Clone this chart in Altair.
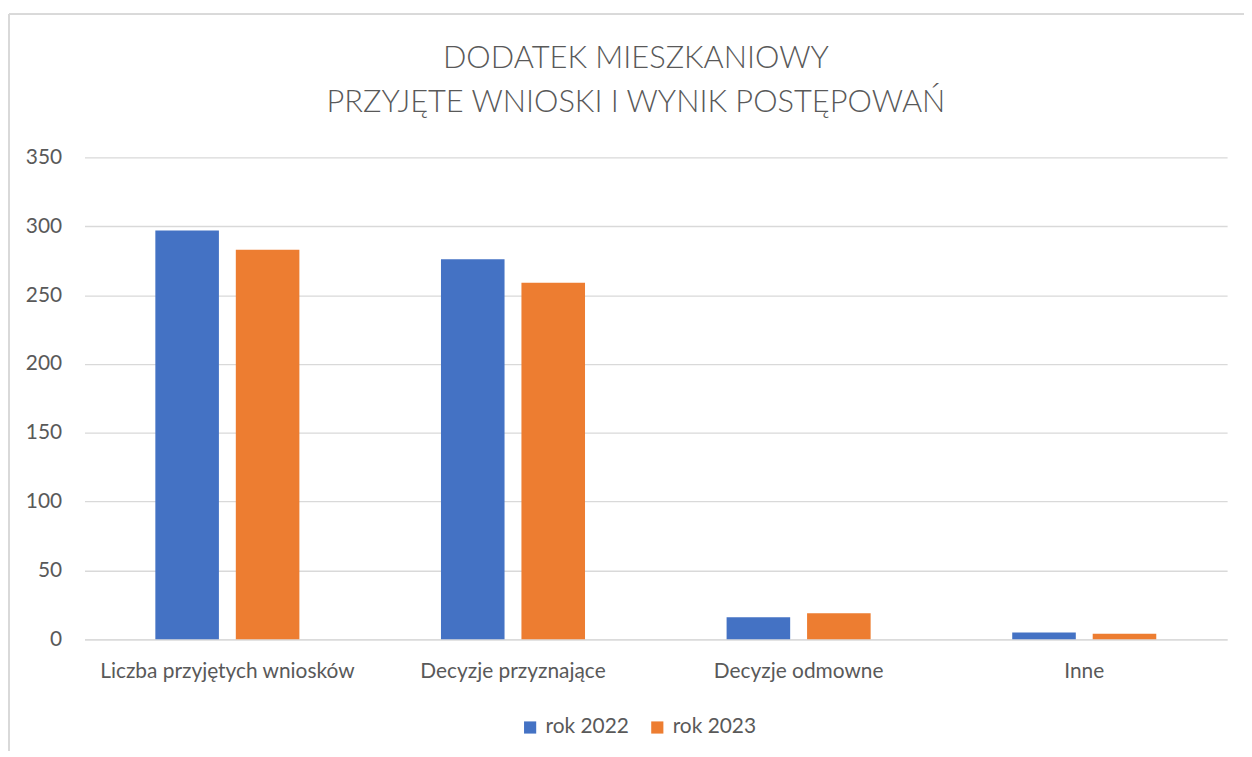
import altair as alt
import pandas as pd

categories = ["Liczba przyjętych wniosków", "Decyzje przyznające", "Decyzje odmowne", "Inne"]
series = ["rok 2022", "rok 2023"]
values_2022 = [297, 276, 16, 5]
values_2023 = [283, 259, 19, 4]
colors = ["#4472C4", "#ED7D31"]

rows = []
for c, a, b in zip(categories, values_2022, values_2023):
    rows.append({"kategoria": c, "rok": series[0], "wartosc": a})
    rows.append({"kategoria": c, "rok": series[1], "wartosc": b})
df = pd.DataFrame(rows)

FONT = "Lato"
W, H = 1150, 485
FS = 21

bars = alt.Chart(df).mark_bar().encode(
    x=alt.X("kategoria:N", sort=categories, title=None,
            scale=alt.Scale(paddingInner=0.4957, paddingOuter=0.248),
            axis=alt.Axis(labelAngle=0, labelFontSize=FS, labelColor="#595959",
                          labelFont=FONT, labelPadding=21, ticks=False, labelLimit=400,
                          domainColor="#d9d9d9", domainWidth=1.3)),
    xOffset=alt.XOffset("rok:N", sort=series,
                        scale=alt.Scale(paddingInner=0.21, paddingOuter=0)),
    y=alt.Y("wartosc:Q", title=None,
            scale=alt.Scale(domain=[0, 350], nice=False),
            axis=alt.Axis(values=[0, 50, 100, 150, 200, 250, 300, 350],
                          labelFontSize=FS, labelColor="#595959", labelFont=FONT,
                          labelPadding=23, ticks=False, domain=False,
                          gridColor="#d9d9d9", gridWidth=1.3)),
    color=alt.Color("rok:N", sort=series,
                    scale=alt.Scale(domain=series, range=colors),
                    legend=alt.Legend(title=None, orient="none", direction="horizontal",
                                      legendX=438, legendY=563,
                                      symbolType="square", symbolSize=150,
                                      symbolStrokeWidth=0,
                                      labelFontSize=FS, labelColor="#595959",
                                      labelFont=FONT, labelOffset=5,
                                      columnPadding=18)),
)

border_left = alt.Chart(df).mark_rule(color="#d9d9d9", strokeWidth=1.5).encode(
    x=alt.value(-76), y=alt.value(-144), y2=alt.value(H + 140)
)
border_top = alt.Chart(df).mark_rule(color="#d9d9d9", strokeWidth=1.5).encode(
    x=alt.value(-76), x2=alt.value(W + 40), y=alt.value(-144)
)

chart = alt.layer(border_left, border_top, bars).properties(
    width=W, height=H,
    title=alt.TitleParams(
        text=["DODATEK MIESZKANIOWY", "PRZYJĘTE WNIOSKI I WYNIK POSTĘPOWAŃ"],
        fontSize=31, font=FONT, fontWeight=300, color="#595959",
        anchor="middle", dx=-20, offset=-106, lineHeight=44,
    ),
    autosize=alt.AutoSizeParams(type="none"),
    padding={"left": 77, "top": 148, "right": 17, "bottom": 110},
).configure_view(stroke=None)

chart.save("out.html", embed_options={"renderer": "svg", "actions": False})
